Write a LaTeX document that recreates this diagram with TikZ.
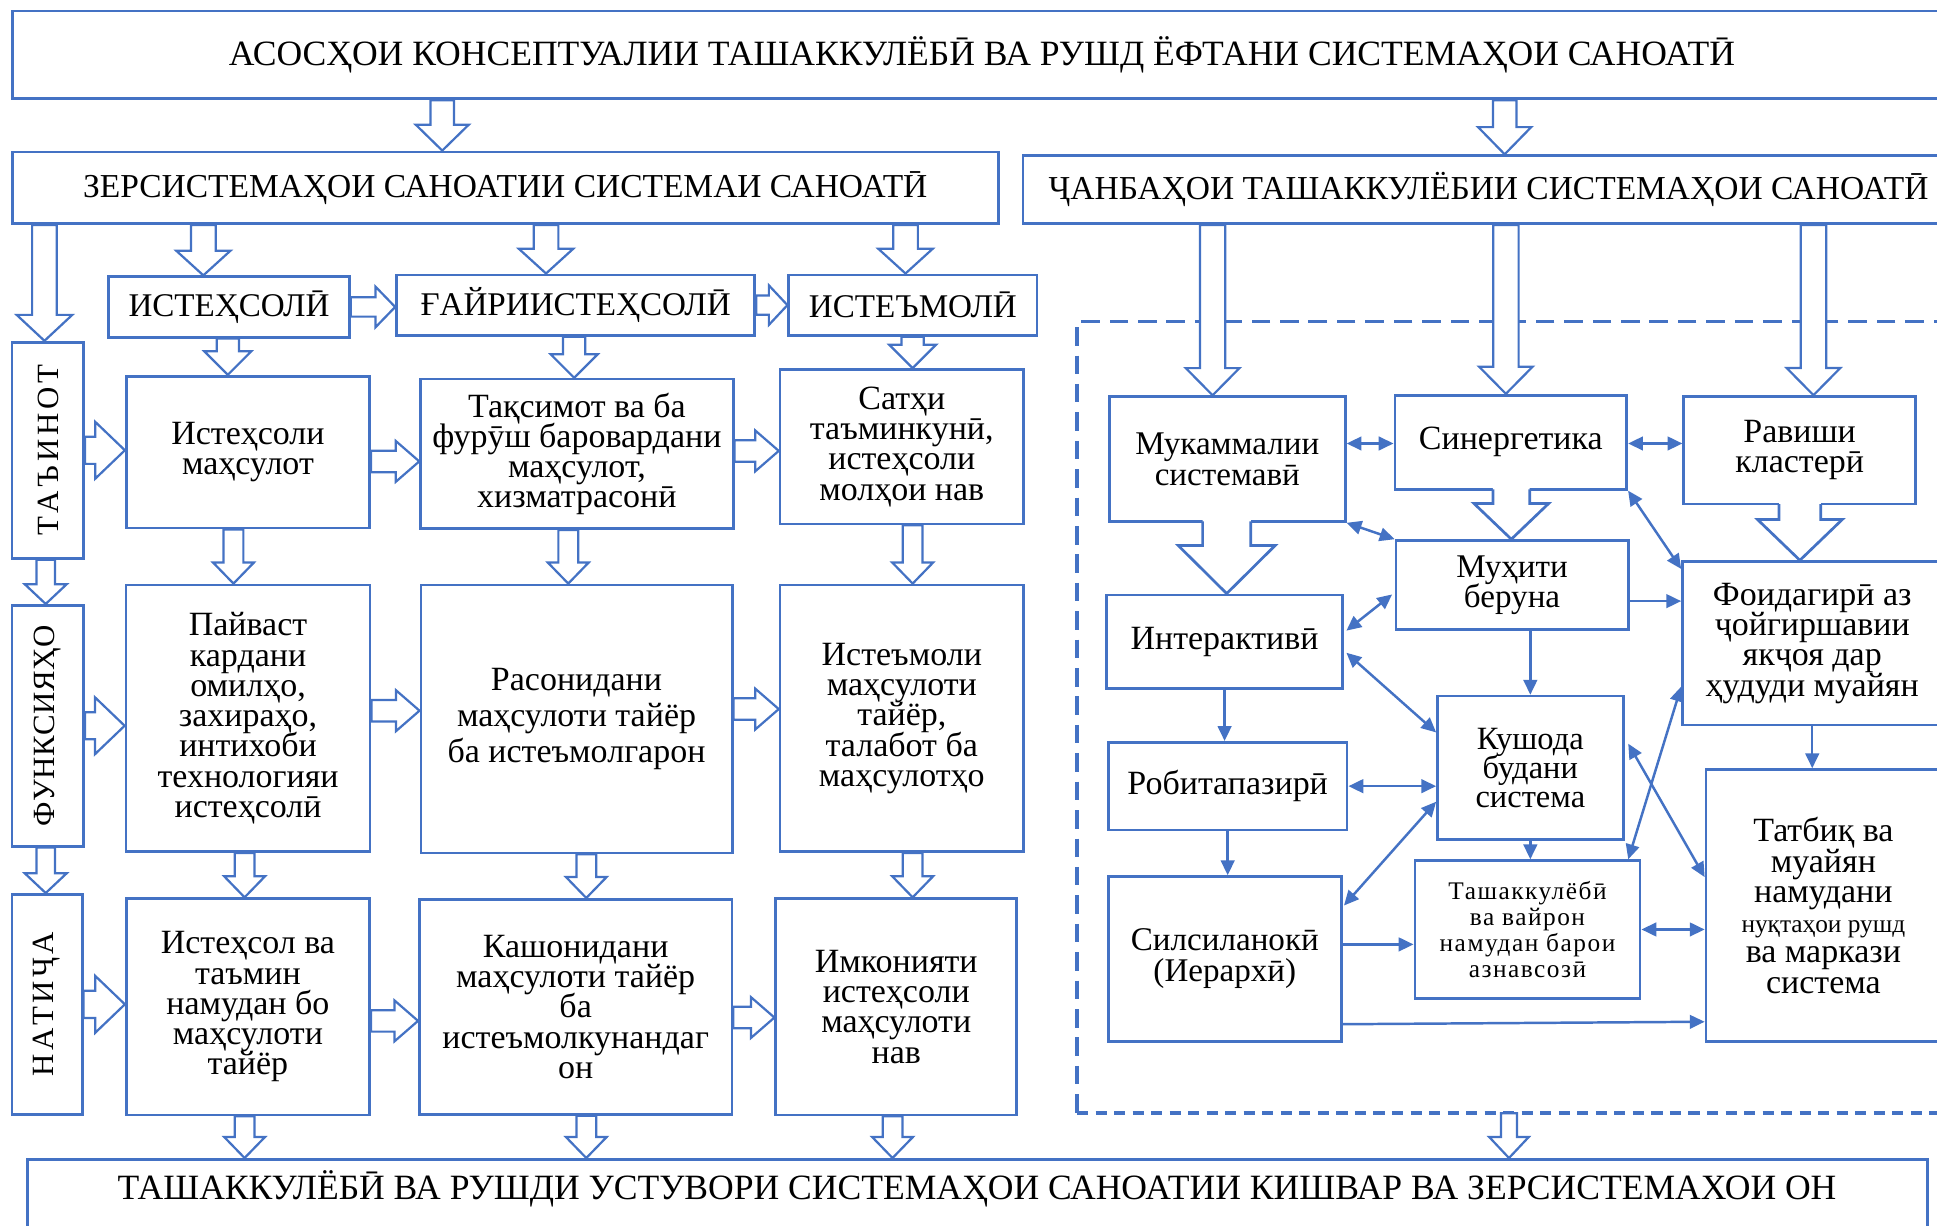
\documentclass[tikz,border=0pt]{standalone}
\usepackage{fontspec}
\setmainfont{Liberation Serif}
\usetikzlibrary{calc,arrows.meta}
\definecolor{bl}{RGB}{68,114,196}
\newcommand\fTop{\fontsize{28.8}{30}\selectfont}
\newcommand\fT{\fontsize{27.1}{28}\selectfont}
\newcommand\fC{\fontsize{26.8}{28}\selectfont}
\newcommand\fB{\fontsize{27.5}{24.5}\selectfont\lineskiplimit=-50pt\relax}
\newcommand\fBw{\fontsize{27.5}{29}\selectfont\lineskiplimit=-50pt\relax}
\newcommand\fBn{\fontsize{26.8}{25.2}\selectfont\lineskiplimit=-50pt\relax}
\newcommand\fM{\fontsize{26.8}{24}\selectfont\lineskiplimit=-50pt\relax}
\newcommand\fK{\fontsize{26.3}{23.5}\selectfont\lineskiplimit=-50pt\relax}
\newcommand\fV{\fontsize{25}{25}\selectfont}
\newcommand\fS{\fontsize{20.5}{21}\selectfont\lineskiplimit=-50pt\relax\addfontfeature{LetterSpace=6}}
\newcommand\darr[5]{\path[ha] let \p1=#1, \p2=#2 in (\x1-#3,\y1) -- (\x1-#3,\y2+#5) -- (\x1-#4,\y2+#5) -- (\x1,\y2) -- (\x1+#4,\y2+#5) -- (\x1+#3,\y2+#5) -- (\x1+#3,\y1) -- cycle;}
\newcommand\rarr[5]{\path[ha] let \p1=#1, \p2=#2 in (\x1,\y1+#3) -- (\x2-#5,\y1+#3) -- (\x2-#5,\y1+#4) -- (\x2,\y1) -- (\x2-#5,\y1-#4) -- (\x2-#5,\y1-#3) -- (\x1,\y1-#3) -- cycle;}
\newcommand\dcall[5]{%
 \fill[white] let \p1=#1, \p2=#2 in (\x1-#3,\y1+2.5pt) -- (\x1-#3,\y2+#5) -- (\x1-#4,\y2+#5) -- (\x1,\y2) -- (\x1+#4,\y2+#5) -- (\x1+#3,\y2+#5) -- (\x1+#3,\y1+2.5pt) -- cycle;
 \draw[haline] let \p1=#1, \p2=#2 in (\x1-#3,\y1+1.1pt) -- (\x1-#3,\y2+#5) -- (\x1-#4,\y2+#5) -- (\x1,\y2) -- (\x1+#4,\y2+#5) -- (\x1+#3,\y2+#5) -- (\x1+#3,\y1+1.1pt);}
\begin{document}
\begin{tikzpicture}[x=1pt,y=-1pt,
 bx/.style={draw=bl, line width=2.2pt, fill=white, inner sep=0pt, align=center, font=\fB},
 ha/.style={draw=bl, line width=1.8pt, fill=white, line join=miter},
 haline/.style={draw=bl, line width=2.2pt, line join=miter},
 con/.style={draw=bl, line width=2pt, -{Triangle[length=12pt,width=11pt]}},
 bicon/.style={draw=bl, line width=2pt, {Triangle[length=12pt,width=11pt]}-{Triangle[length=12pt,width=11pt]}},
 dsA/.style={draw=bl, line width=3pt, dash pattern=on 15pt off 8pt},
 dsB/.style={draw=bl, line width=3pt, dash pattern=on 9pt off 6pt}]
\fill[white] (0,0) rectangle (1568,992);
\useasboundingbox (0,0) rectangle (1568,992);

% dashed container
\node[minimum width=708pt, minimum height=640.6pt, inner sep=0pt] (dsh) at (1226,580.7) {};
\draw[dsA] (dsh.north east) -- (dsh.north west) -- (dsh.south west);
\draw[dsB] (dsh.south west) -- (dsh.south east);

% headers
\node[bx, minimum width=1570pt, minimum height=71pt, font=\fTop] (top) at (795,44.5) {АСОСҲОИ КОНСЕПТУАЛИИ ТАШАККУЛЁБӢ ВА РУШД ЁФТАНИ СИСТЕМАҲОИ САНОАТӢ};
\node[bx, minimum width=798pt, minimum height=58pt, font=\fT] (zer) at (409,152) {ЗЕРСИСТЕМАҲОИ САНОАТИИ СИСТЕМАИ САНОАТӢ};
\node[bx, minimum width=754pt, minimum height=55pt, font=\fT] (jan) at (1205,153.5) {ҶАНБАҲОИ ТАШАККУЛЁБИИ СИСТЕМАҲОИ САНОАТӢ};

% left labels
\node[bx, minimum width=58pt, minimum height=175pt] (tay) at (38.8,364.5) {};
\node[rotate=90, font=\fV] (tayt) at (tay) {Т\kern3ptА\kern3ptЪ\kern3ptИ\kern3ptН\kern3ptО\kern3ptТ};
\node[bx, minimum width=58pt, minimum height=195pt] (fun) at (38.8,587.5) {};
\node[rotate=90, font=\fV] (funt) at (fun) {Ф\kern0.4ptУ\kern0.4ptН\kern0.4ptК\kern0.4ptС\kern0.4ptИ\kern0.4ptЯ\kern0.4ptҲ\kern0.4ptО};
\node[bx, minimum width=57pt, minimum height=178pt] (nat) at (38.1,813) {};
\node[rotate=90, font=\fV] (natt) at (nat) {Н\kern2.6ptА\kern2.6ptТ\kern2.6ptИ\kern2.6ptҶ\kern2.6ptА};

% categories
\node[bx, minimum width=195pt, minimum height=49pt, font=\fC] (ist) at (185.4,248.5) {ИСТЕҲСОЛӢ};
\node[bx, minimum width=290pt, minimum height=49pt, font=\fC] (gay) at (466,247) {ҒАЙРИИСТЕҲСОЛӢ};
\node[bx, minimum width=201pt, minimum height=49pt, font=\fC] (iste) at (739,247) {ИСТЕЪМОЛӢ};

% rows
\node[bx, minimum width=197pt, minimum height=123pt] (r1a) at (200.7,366) {Истеҳсоли\\маҳсулот};
\node[bx, minimum width=253pt, minimum height=121pt] (r1b) at (467,367.4) {Тақсимот ва ба\\фурӯш баровардани\\маҳсулот,\\хизматрасонӣ};
\node[bx, minimum width=197pt, minimum height=125pt] (r1c) at (730,361.6) {Сатҳи\\таъминкунӣ,\\истеҳсоли\\молҳои нав};
\node[bx, minimum width=197.6pt, minimum height=216pt] (r2a) at (200.8,581.5) {Пайваст\\кардани\\омилҳо,\\захираҳо,\\интихоби\\технологияи\\истеҳсолӣ};
\node[bx, minimum width=252pt, minimum height=217pt, font=\fBw] (r2b) at (466.7,582) {Расонидани\\маҳсулоти тайёр\\ба истеъмолгарон};
\node[bx, minimum width=197pt, minimum height=216pt] (r2c) at (730,581.5) {Истеъмоли\\маҳсулоти\\тайёр,\\талабот ба\\маҳсулотҳо};
\node[bx, minimum width=197pt, minimum height=175pt] (r3a) at (200.7,815) {Истеҳсол ва\\таъмин\\намудан бо\\маҳсулоти\\тайёр};
\node[bx, minimum width=253pt, minimum height=174pt] (r3b) at (466,815) {Кашонидани\\маҳсулоти тайёр\\ба\\истеъмолкунандаг\\он};
\node[bx, minimum width=195pt, minimum height=175pt] (r3c) at (725.5,815) {Имконияти\\истеҳсоли\\маҳсулоти\\нав};

% bottom
\node[bx, minimum width=1538pt, minimum height=80pt] (bot) at (791,978.5) {};
\node[font=\fTop] (bott) at (791,962) {ТАШАККУЛЁБӢ ВА РУШДИ УСТУВОРИ СИСТЕМАҲОИ САНОАТИИ КИШВАР ВА ЗЕРСИСТЕМАХОИ ОН};

% right panel
\node[bx, minimum width=191pt, minimum height=101pt, font=\fBn] (muk) at (993.5,371.6) {Мукаммалии\\системавӣ};
\node[bx, minimum width=187.7pt, minimum height=76.2pt] (sin) at (1223,358) {Синергетика};
\node[bx, minimum width=187.6pt, minimum height=87pt] (rav) at (1456.8,364.5) {Равиши\\кластерӣ};
\node[bx, minimum width=188pt, minimum height=72pt, font=\fM] (muh) at (1224,473.6) {Муҳити\\беруна};
\node[bx, minimum width=191pt, minimum height=75.6pt] (int) at (991.3,519.4) {Интерактивӣ};
\node[bx, minimum width=193.3pt, minimum height=71pt] (rob) at (993.8,636.4) {Робитапазирӣ};
\node[bx, minimum width=188.7pt, minimum height=133.4pt, font=\fBn] (sil) at (991.5,776.3) {Силсиланокӣ\\(Иерархӣ)};
\node[bx, minimum width=150.3pt, minimum height=116pt, font=\fK] (kush) at (1238.8,621.5) {Кушода\\будани\\система};
\node[bx, minimum width=182.3pt, minimum height=111.4pt, font=\fS] (tash) at (1236.5,752.4) {Ташаккулёбӣ\\ва вайрон\\намудан барои\\азнавсозӣ};
\node[bx, minimum width=210pt, minimum height=132.3pt] (fo) at (1467,520.8) {Фоидагирӣ аз\\ҷойгиршавии\\якҷоя дар\\ҳудуди муайян};
\node[bx, minimum width=190pt, minimum height=220pt] (tat) at (1476,733) {Татбиқ ва\\муайян\\намудани\\{\fontsize{20.5}{21}\selectfont нуқтаҳои рушд}\\ва маркази\\система};

% hollow arrows
\coordinate (c1) at (358,0); \coordinate (c2) at (1218,0);
\coordinate (c3) at (36,0); \coordinate (c4) at (164.6,0); \coordinate (c5) at (442,0); \coordinate (c6) at (733,0);
\coordinate (c7) at (184.4,0); \coordinate (c8) at (464.8,0); \coordinate (c9) at (738.8,0);
\coordinate (c10) at (189,0); \coordinate (c11) at (460,0); \coordinate (c12) at (738.8,0);
\coordinate (c13) at (37,0); \coordinate (c14) at (198,0); \coordinate (c15) at (474.6,0);
\coordinate (c17) at (722.5,0); \coordinate (c18) at (1221.5,0);
\coordinate (c19) at (981.6,0); \coordinate (c20) at (1219,0); \coordinate (c21) at (1468,0);

\darr{(c1 |- top.south)}{(c1 |- zer.north)}{9.5pt}{21.5pt}{21pt}
\darr{(c2 |- top.south)}{(c2 |- jan.north)}{9.5pt}{21.5pt}{22pt}
\darr{(c3 |- zer.south)}{(c3 |- tay.north)}{10pt}{22.5pt}{21pt}
\darr{(c4 |- zer.south)}{(c4 |- ist.north)}{10pt}{22pt}{20pt}
\darr{(c5 |- zer.south)}{(c5 |- gay.north)}{10pt}{22pt}{20pt}
\darr{(c6 |- zer.south)}{(c6 |- iste.north)}{10pt}{22pt}{20pt}
\darr{(c7 |- ist.south)}{(c7 |- r1a.north)}{9pt}{19pt}{19pt}
\darr{(c8 |- gay.south)}{(c8 |- r1b.north)}{9pt}{19pt}{19pt}
\darr{(c9 |- iste.south)}{(c9 |- r1c.north)}{9pt}{19pt}{19pt}
\darr{(c10 |- r1a.south)}{(c10 |- r2a.north)}{8pt}{16.5pt}{17pt}
\darr{(c11 |- r1b.south)}{(c11 |- r2b.north)}{8pt}{16.5pt}{17pt}
\darr{(c12 |- r1c.south)}{(c12 |- r2c.north)}{8pt}{16.5pt}{17pt}
\darr{(c13 |- tay.south)}{(c13 |- fun.north)}{7.5pt}{17pt}{16pt}
\darr{(c13 |- fun.south)}{(c13 |- nat.north)}{7.5pt}{17pt}{16pt}
\darr{(c14 |- r2a.south)}{(c14 |- r3a.north)}{8pt}{16.5pt}{17pt}
\darr{(c15 |- r2b.south)}{(c15 |- r3b.north)}{8pt}{16.5pt}{17pt}
\darr{(c12 |- r2c.south)}{(c12 |- r3c.north)}{8pt}{16.5pt}{17pt}
\darr{(c14 |- r3a.south)}{(c14 |- bot.north)}{8pt}{16.5pt}{17pt}
\darr{(c15 |- r3b.south)}{(c15 |- bot.north)}{8pt}{16.5pt}{17pt}
\darr{(c17 |- r3c.south)}{(c17 |- bot.north)}{8pt}{16.5pt}{17pt}
\darr{(c18 |- dsh.south)}{(c18 |- bot.north)}{6.5pt}{16pt}{17pt}
\darr{(c19 |- jan.south)}{(c19 |- muk.north)}{10.3pt}{21.7pt}{22pt}
\darr{(c20 |- jan.south)}{(c20 |- sin.north)}{10.3pt}{21.7pt}{22pt}
\darr{(c21 |- jan.south)}{(c21 |- rav.north)}{10.3pt}{21.7pt}{22pt}

\coordinate (d4) at (0,373.5); \coordinate (d5) at (0,365);
\coordinate (d7) at (0,575.3); \coordinate (d8) at (0,574);
\coordinate (d10) at (0,826.4); \coordinate (d11) at (0,823.7);
\rarr{(ist.east)}{(ist.east -| gay.west)}{7.8pt}{16.5pt}{16pt}
\rarr{(gay.east)}{(gay.east -| iste.west)}{7.8pt}{16pt}{15pt}
\rarr{(tay.east)}{(tay.east -| r1a.west)}{11pt}{23pt}{24pt}
\rarr{(fun.east)}{(fun.east -| r2a.west)}{11pt}{23pt}{24pt}
\rarr{(nat.east)}{(nat.east -| r3a.west)}{11pt}{23pt}{24pt}
\rarr{(d4 -| r1a.east)}{(d4 -| r1b.west)}{8.7pt}{16.5pt}{19pt}
\rarr{(d5 -| r1b.east)}{(d5 -| r1c.west)}{8.7pt}{16.5pt}{19pt}
\rarr{(d7 -| r2a.east)}{(d7 -| r2b.west)}{8.7pt}{16.5pt}{19pt}
\rarr{(d8 -| r2b.east)}{(d8 -| r2c.west)}{8.7pt}{16.5pt}{19pt}
\rarr{(d10 -| r3a.east)}{(d10 -| r3b.west)}{8.7pt}{16.5pt}{19pt}
\rarr{(d11 -| r3b.east)}{(d11 -| r3c.west)}{8.7pt}{16.5pt}{19pt}

% callout arrows
\coordinate (e1) at (993,0); \coordinate (e2) at (1223.4,0); \coordinate (e3) at (1457,0);
\dcall{(e1 |- muk.south)}{(e1 |- int.north)}{19.5pt}{39.3pt}{39pt}
\dcall{(e2 |- sin.south)}{(e2 |- muh.north)}{14.9pt}{30.3pt}{29pt}
\dcall{(e3 |- rav.south)}{(e3 |- fo.north)}{16.9pt}{34.3pt}{33pt}

% thin connectors
\coordinate (f1) at (0,359);
\coordinate (g1) at ($(sil.north east)+(0,56)$);
\coordinate (g2) at ($(muh.east)+(0,13)$);
\draw[bicon] (f1 -| muk.east) -- (f1 -| sin.west);
\draw[bicon] (f1 -| sin.east) -- (f1 -| rav.west);
\draw[bicon] (muk.south east) -- (muh.north west);
\draw[bicon] (sin.south east) -- ($(fo.north west)+(0,7)$);
\draw[bicon] ($(int.north east)+(2,30)$) -- ($(muh.south west)+(-2,-29.5)$);
\draw[con] (int.south) -- (int.south |- rob.north);
\draw[con] (rob.south) -- (rob.south |- sil.north);
\draw[con] (kush.north |- muh.south) -- (kush.north);
\draw[bicon] ($(int.east)+(2,9)$) -- ($(kush.north west)+(0,30.5)$);
\draw[bicon] (rob.east) -- (rob.east -| kush.west);
\draw[bicon] ($(sil.north east)+(1,24.5)$) -- ($(kush.west)+(0,27.5)$);
\draw[con] (kush.south) -- (kush.south |- tash.north);
\draw[con] (g1) -- (g1 -| tash.west);
\draw[con] (g2) -- (g2 -| fo.west);
\draw[con] (fo.south) -- (fo.south |- tat.north);
\draw[bicon] ($(tash.north east)+(-10.7,0)$) -- ($(fo.west)+(0,35)$);
\draw[bicon] ($(kush.east)+(3,-19.5)$) -- ($(tat.west)+(0,-23)$);
\draw[bicon] (tash.east) -- (tash.east -| tat.west);
\draw[con] ($(sil.south east)+(0,-15)$) -- ($(tat.south west)+(0,-17)$);
\end{tikzpicture}
\end{document}
